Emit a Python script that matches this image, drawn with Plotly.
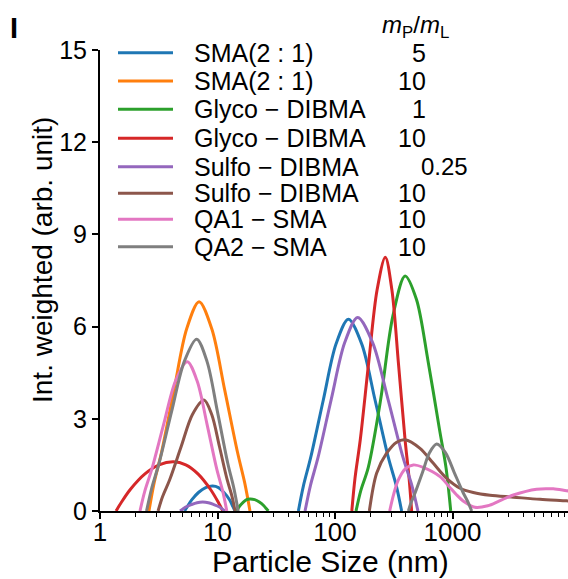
import plotly.graph_objects as go

# ---------------- data ----------------
series_names = ["SMA(2 : 1)", "SMA(2 : 1)", "Glyco − DIBMA", "Glyco − DIBMA",
                "Sulfo − DIBMA", "Sulfo − DIBMA", "QA1 − SMA", "QA2 − SMA"]
ratios = ["5", "10", "1", "10", "0.25", "10", "10", "10"]
colors = ["#1f77b4", "#ff7f0e", "#2ca02c", "#d62728",
          "#9467bd", "#8c564b", "#e377c2", "#7f7f7f"]

size_sma5 = [5.25, 5.55, 6.03, 6.92, 7.93, 9.10, 10.2, 11.3, 12.7, 13.5, 14.1, None,
             48.8, 53.8, 62.2, 79.6, 102, 130, 169, 219, 284, 333, 369]
int_sma5 = [0, 0.15, 0.36, 0.61, 0.76, 0.81, 0.76, 0.61, 0.36, 0.15, 0, None,
            0, 0.81, 1.75, 3.62, 5.43, 6.24, 5.43, 3.62, 1.75, 0.81, 0]

size_sma10 = [2.61, 2.88, 3.34, 4.27, 5.46, 6.97, 8.95, 11.5, 14.8, 17.1, 18.9]
int_sma10 = [0, 0.89, 1.91, 3.95, 5.92, 6.81, 5.92, 3.95, 1.91, 0.89, 0]

size_gly1 = [14.6, 14.9, 15.5, 16.6, 17.7, 18.9, 20.7, 22.7, 24.8, 26.1, 27.1, None,
             151, 166, 192, 244, 311, 395, 493, 618, 773, 883, 966]
int_gly1 = [0, 0.07, 0.17, 0.29, 0.37, 0.39, 0.37, 0.29, 0.17, 0.07, 0, None,
            0, 0.67, 1.42, 3.60, 6.35, 7.65, 6.89, 4.90, 2.68, 1.38, 0]

size_gly10 = [1.37, 1.53, 1.81, 2.40, 3.18, 4.21, 5.37, 6.85, 8.73, 10.1, 11.1, None,
              139, 148, 164, 193, 228, 268, 305, 347, 395, 427, 449]
int_gly10 = [0, 0.30, 0.70, 1.20, 1.50, 1.60, 1.50, 1.20, 0.70, 0.30, 0, None,
             0, 1.07, 2.31, 4.79, 7.19, 8.26, 7.19, 4.79, 2.31, 1.07, 0]

size_sulf025 = [4.80, 5.01, 5.36, 6.00, 6.70, 7.48, 8.36, 9.31, 10.4, 11.1, 11.6, None,
                55.6, 61.7, 71.9, 93.1, 121, 156, 209, 282, 378, 452, 508]
int_sulf025 = [0, 0.05, 0.13, 0.21, 0.27, 0.29, 0.27, 0.21, 0.13, 0.05, 0, None,
               0, 0.82, 1.76, 3.65, 5.48, 6.30, 5.48, 3.65, 1.76, 0.82, 0]

size_sulf10 = [3.12, 3.41, 3.91, 4.90, 6.12, 7.67, 8.93, 10.4, 12.1, 13.3, 14.1, None,
               196, 226, 275, 335, 394, 529, 687, 892, 1158, 1503, 2085, 3294, 5557, 9340, 10000]
int_sulf10 = [0, 0.47, 1.01, 2.09, 3.14, 3.61, 3.14, 2.09, 1.01, 0.47, 0, None,
              0, 1.23, 1.88, 2.24, 2.32, 2.04, 1.55, 1.06, 0.74, 0.60, 0.51, 0.45, 0.38, 0.33, 0.32]

size_qa1 = [2.19, 2.40, 2.76, 3.48, 4.39, 5.53, 6.71, 8.15, 9.86, 11.1, 12.0, None,
            292, 316, 346, 398, 464, 562, 783, 933, 1086, 1259, 1552, 1995, 2512, 3296,
            5200, 7211, 9333, 10000]
int_qa1 = [0, 0.63, 1.36, 2.82, 4.23, 4.86, 4.23, 2.82, 1.36, 0.63, 0, None,
           0, 0.55, 1.01, 1.38, 1.50, 1.42, 1.12, 0.80, 0.52, 0.30, 0.12, 0.17, 0.33, 0.52,
           0.71, 0.72, 0.66, 0.65]

size_qa2 = [2.49, 2.75, 3.19, 4.07, 5.21, 6.65, 8.15, 9.98, 12.2, 13.8, 15.0, None,
            421, 445, 483, 556, 638, 733, 871, 1033, 1227, 1358, 1456]
int_qa2 = [0, 0.73, 1.57, 3.24, 4.86, 5.59, 4.86, 3.24, 1.57, 0.73, 0, None,
           0, 0.28, 0.61, 1.26, 1.90, 2.18, 1.90, 1.26, 0.61, 0.28, 0]

x_tickvals = [1, 10, 100, 1000]
x_ticktext = ["1", "10", "100", "1000"]
y_tickvals = [0, 3, 6, 9, 12, 15]
minor_digits = [2, 3, 4, 5, 6, 7, 8, 9]

all_sizes = [size_sma5, size_sma10, size_gly1, size_gly10,
             size_sulf025, size_sulf10, size_qa1, size_qa2]
all_ints = [int_sma5, int_sma10, int_gly1, int_gly10,
            int_sulf025, int_sulf10, int_qa1, int_qa2]

# ---------------- layout geometry ----------------
W, H = 568, 579
L, R, T, B = 100, 0, 50, 68
PW, PH = W - L - R, H - T - B
FONT = "Liberation Sans, Arial, sans-serif"


def px(x):
    return (x - L) / PW


def py(y):
    return (H - B - y) / PH


minor_vals = [d * m for d in x_tickvals for m in minor_digits]

fig = go.Figure()
for xs, ys, c in zip(all_sizes, all_ints, colors):
    fig.add_trace(go.Scatter(x=xs, y=ys, mode="lines",
                             line=dict(color=c, width=3, shape="spline", smoothing=0.9),
                             connectgaps=False, showlegend=False, hoverinfo="skip"))

# legend (lines + labels + ratio column)
leg_rows = [52.7, 81, 109.3, 138.3, 166.7, 193.3, 219.3, 246.7]
for yy, name, r, c in zip(leg_rows, series_names, ratios, colors):
    fig.add_shape(type="line", xref="paper", yref="paper",
                  x0=px(118), x1=px(173), y0=py(yy), y1=py(yy),
                  line=dict(color=c, width=3))
    fig.add_annotation(xref="paper", yref="paper", x=px(192), y=py(yy),
                       text=name, showarrow=False, xanchor="left", yanchor="middle",
                       font=dict(size=25, color="black", family=FONT))
    if r == "0.25":
        fig.add_annotation(xref="paper", yref="paper", x=px(419), y=py(yy),
                           text=r, showarrow=False, xanchor="left", yanchor="middle",
                           font=dict(size=24, color="black", family=FONT))
    else:
        fig.add_annotation(xref="paper", yref="paper", x=px(428), y=py(yy),
                           text=r, showarrow=False, xanchor="right", yanchor="middle",
                           font=dict(size=25, color="black", family=FONT))

fig.add_annotation(xref="paper", yref="paper", x=px(415), y=py(26),
                   text="<i>m</i><sub>P</sub>/<i>m</i><sub>L</sub>", showarrow=False,
                   xanchor="center", yanchor="middle",
                   font=dict(size=24, color="black", family=FONT))

fig.add_annotation(xref="paper", yref="paper", x=px(14), y=py(28),
                   text="<b>I</b>", showarrow=False, xanchor="center", yanchor="middle",
                   font=dict(size=29, color="black", family=FONT))

fig.add_annotation(xref="paper", yref="paper", x=px(42), y=py(260),
                   text="Int. weighted (arb. unit)", showarrow=False, textangle=-90,
                   xanchor="center", yanchor="middle",
                   font=dict(size=28, color="black", family=FONT))

fig.add_annotation(xref="paper", yref="paper", x=px(330), y=py(561),
                   text="Particle Size (nm)", showarrow=False,
                   xanchor="center", yanchor="middle",
                   font=dict(size=30, color="black", family=FONT))

fig.update_layout(
    width=W, height=H,
    margin=dict(l=L, r=R, t=T, b=B, pad=0),
    paper_bgcolor="white", plot_bgcolor="white",
    font=dict(family=FONT, color="black"),
    xaxis=dict(type="log", range=[0, PW / 117.5], tickmode="array",
               tickvals=x_tickvals, ticktext=x_ticktext,
               ticks="outside", ticklen=6, tickwidth=2, tickcolor="black",
               ticklabelstandoff=-9,
               showline=True, linecolor="black", linewidth=2, showgrid=False,
               zeroline=False, tickfont=dict(size=26, family=FONT, color="black"),
               minor=dict(tickmode="array", tickvals=minor_vals, ticks="outside",
                          ticklen=4, tickwidth=1.2, tickcolor="black", showgrid=False)),
    yaxis=dict(range=[0, 15], tickvals=y_tickvals, ticks="outside", ticklen=6,
               tickwidth=2, tickcolor="black", showline=True, linecolor="black",
               linewidth=2, showgrid=False, zeroline=False,
               tickfont=dict(size=25, family=FONT, color="black")),
)

fig.write_html("out.html", config={"displayModeBar": False},
               post_script="document.body.style.margin='0';")
